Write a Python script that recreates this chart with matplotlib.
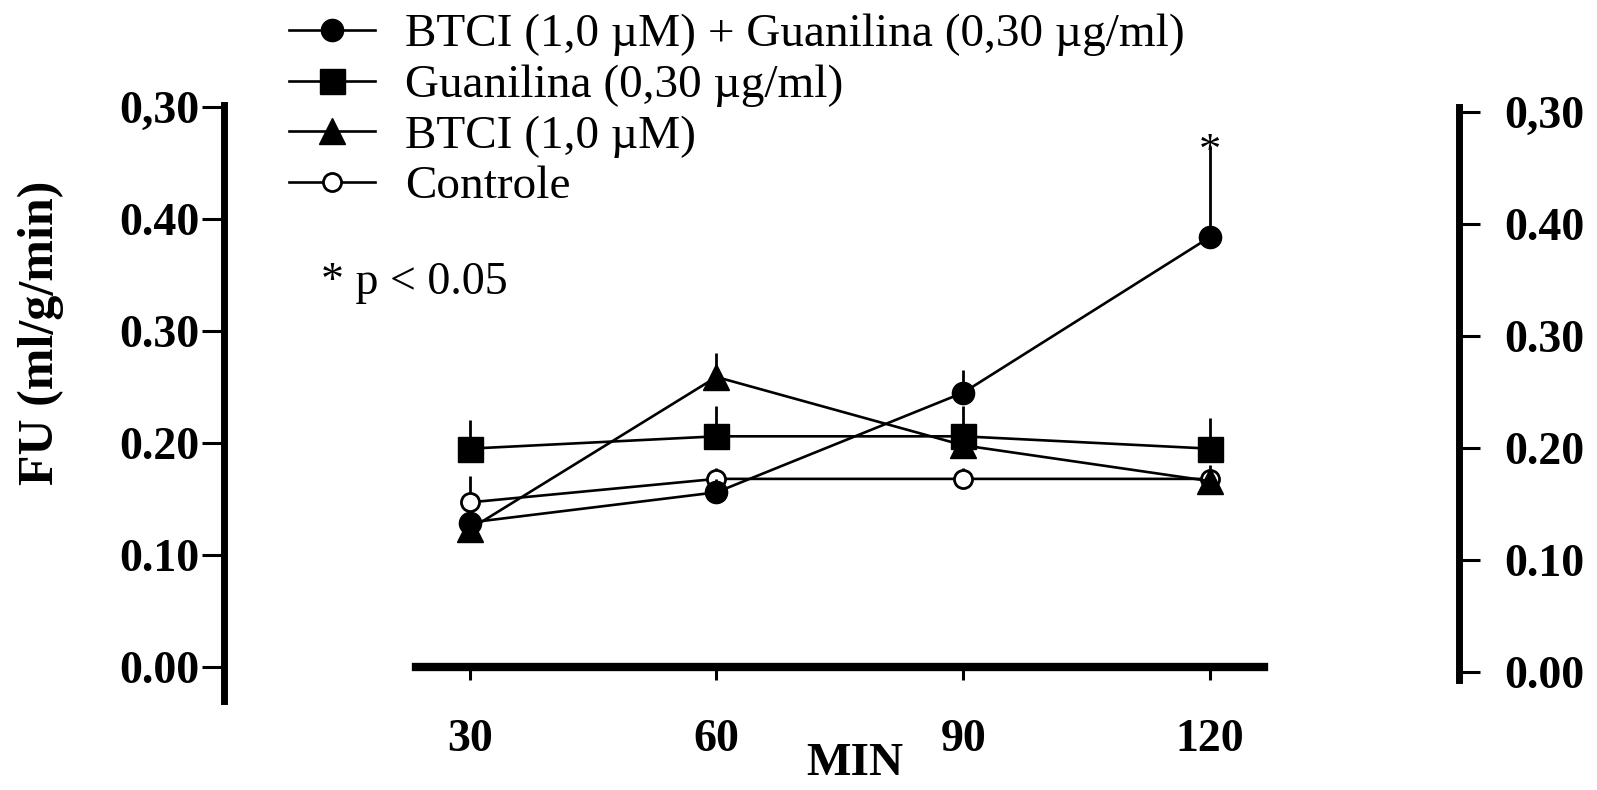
import matplotlib
matplotlib.use('Agg')
import matplotlib.pyplot as plt

# ---- data ----
minutes = [30, 60, 90, 120]
btci_guan = [0.129, 0.156, 0.245, 0.384]
btci_guan_err = [0.010, 0.012, 0.020, 0.081]
guan = [0.195, 0.206, 0.206, 0.195]
guan_err = [0.026, 0.027, 0.027, 0.027]
btci = [0.123, 0.259, 0.198, 0.166]
btci_err = [0.010, 0.021, 0.015, 0.010]
controle = [0.147, 0.168, 0.168, 0.168]
controle_err = [0.024, 0.010, 0.010, 0.012]

series_labels = ['BTCI (1,0 µM) + Guanilina (0,30 µg/ml)',
                 'Guanilina (0,30 µg/ml)',
                 'BTCI (1,0 µM)',
                 'Controle']
ytick_vals = [0.0, 0.1, 0.2, 0.3, 0.4, 0.5]
ytick_labels = ['0.00', '0.10', '0.20', '0.30', '0.40', '0,30']
xtick_labels = ['30', '60', '90', '120']

plt.rcParams['font.family'] = ['Liberation Serif', 'DejaVu Serif']

fig = plt.figure(figsize=(15.97, 7.90), dpi=100)
ax = fig.add_axes([0.1403, 0.0848, 0.773, 0.808])
ax.set_xlim(0.16, 150.2)
ax.set_ylim(-0.05, 0.52)

lw = 1.9
common = dict(color='black', lw=lw, elinewidth=2.0, capsize=0, ecolor='black')
e1 = ax.errorbar(minutes, btci_guan, yerr=[[0]*4, btci_guan_err], marker='o', ms=16,
                 mfc='black', mec='black', zorder=4, **common)
e2 = ax.errorbar(minutes, guan, yerr=[[0]*4, guan_err], marker='s', ms=18,
                 mfc='black', mec='black', zorder=3, **common)
e3 = ax.errorbar(minutes, btci, yerr=[[0]*4, btci_err], marker='^', ms=19,
                 mfc='black', mec='black', zorder=5, **common)
e4 = ax.errorbar(minutes, controle, yerr=[[0]*4, controle_err], marker='o', ms=13,
                 mfc='white', mec='black', mew=2.0, zorder=3, **common)

# significance marker
ax.annotate('*', xy=(minutes[3], btci_guan[3] + btci_guan_err[3]),
            xytext=(0, -12), textcoords='offset points', fontsize=32,
            ha='center', va='baseline', zorder=6)
ax.text(0.0786, 0.689, '* p < 0.05', transform=ax.transAxes, fontsize=33,
        ha='left', va='center')

# axes styling
ax.spines['top'].set_visible(False)
ax.spines['right'].set_visible(False)
ax.spines['left'].set_linewidth(5)
ax.spines['left'].set_bounds(-0.03, 0.502)
ax.spines['bottom'].set_linewidth(6)
ax.spines['bottom'].set_bounds(23.5, 126.5)
ax.spines['bottom'].set_position(('data', 0.0))

ax.set_yticks(ytick_vals)
ax.set_yticklabels(ytick_labels, fontsize=33, fontweight='bold')
ax.tick_params(axis='y', direction='out', length=16, width=2.2, pad=2)
ax.set_xticks(minutes)
ax.set_xticklabels(xtick_labels, fontsize=33, fontweight='bold')
ax.tick_params(axis='x', direction='out', length=9, width=2.2, pad=28.5)

ax.set_ylabel('FU (ml/g/min)', fontsize=36, fontweight='bold', va='center')
ax.yaxis.set_label_coords(-0.1485, 0.612)
ax.set_xlabel('MIN', fontsize=34, fontweight='bold', va='center')
ax.xaxis.set_label_coords(0.511, -0.0642)

# right axis
ax2 = ax.twinx()
ax2.set_ylim(-0.05 + 0.0045, 0.52 + 0.0045)
for s in ['top', 'bottom', 'left']:
    ax2.spines[s].set_visible(False)
ax2.spines['right'].set_linewidth(5)
ax2.spines['right'].set_bounds(-0.007, 0.5045)
ax2.set_yticks(ytick_vals)
ax2.set_yticklabels(ytick_labels, fontsize=33, fontweight='bold')
ax2.tick_params(axis='y', direction='out', length=15, width=2.2, pad=18)

# legend
handles = [e1[0], e2[0], e3[0], e4[0]]
leg = ax.legend(handles, series_labels, loc='upper left',
                bbox_to_anchor=(289 / 1597, 0.9830), bbox_transform=fig.transFigure,
                frameon=False, borderpad=0, borderaxespad=0, handlelength=1.82,
                handletextpad=0.64, labelspacing=0.16, prop={'size': 34})

fig.savefig('out.png', dpi=100)
